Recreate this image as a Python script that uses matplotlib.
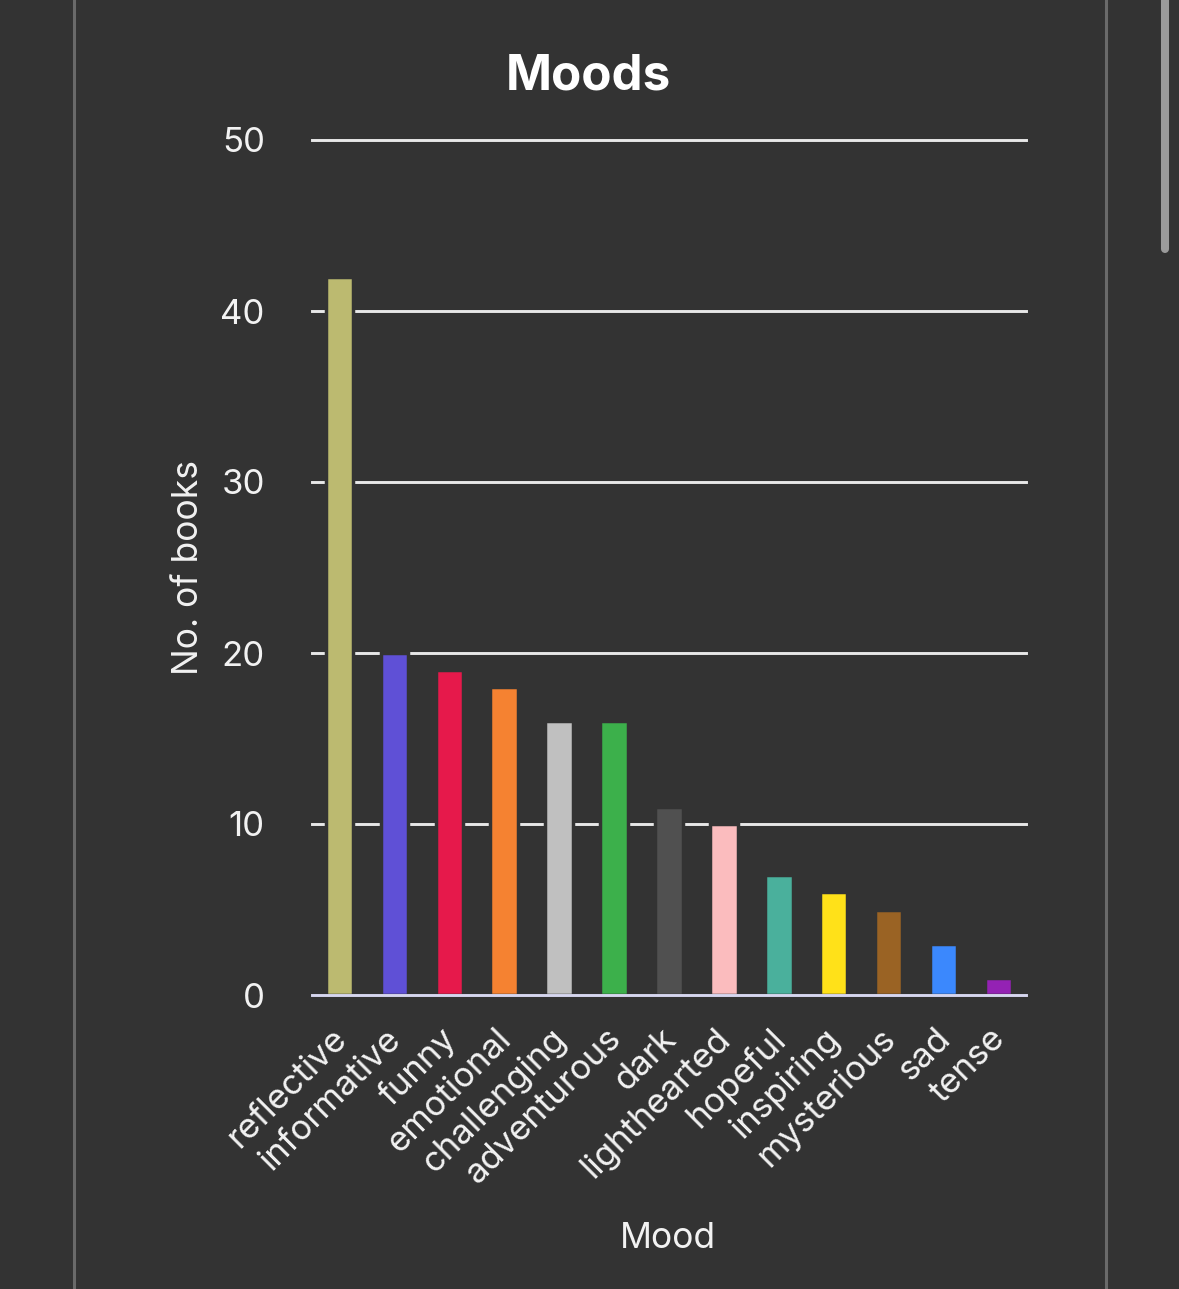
import matplotlib
matplotlib.use("Agg")
import matplotlib.pyplot as plt
from matplotlib.lines import Line2D
import matplotlib.transforms as mtransforms

# ---- data ----
moods = ["reflective", "informative", "funny", "emotional", "challenging",
         "adventurous", "dark", "lighthearted", "hopeful", "inspiring",
         "mysterious", "sad", "tense"]
counts = [42, 20, 19, 18, 16, 16, 11, 10, 7, 6, 5, 3, 1]
colors = ["#bcba70", "#5f50d6", "#e6194b", "#f58231", "#c0c0c0", "#3cb04b",
          "#505050", "#fbbcbe", "#4ab09c", "#ffe119", "#9a6324", "#3b88fd",
          "#9422b4"]
y_ticks = [0, 10, 20, 30, 40, 50]
title = "Moods"
x_title = "Mood"
y_title = "No. of books"

BG = "#333333"
TXT = "#f2f2f2"
FONT = ["Inter", "DejaVu Sans"]
plt.rcParams["font.family"] = FONT

W, H = 1179, 1289
fig = plt.figure(figsize=(W / 100, H / 100), dpi=100, facecolor=BG)

def fx(px):
    return px / W

def fy(py):
    return 1 - py / H

ax = fig.add_axes([fx(312), fy(995), fx(1026) - fx(312), fy(140) - fy(995)])
ax.set_facecolor(BG)
for s in ax.spines.values():
    s.set_visible(False)

x = list(range(len(moods)))
ax.set_xlim(-0.5, len(moods) - 0.5)
ax.set_ylim(0, 50)

# grid lines
for t in y_ticks[1:]:
    ax.axhline(t, color="#e8e8e8", lw=2.1, zorder=1, clip_on=False)
# bars
ax.bar(x, counts, width=0.5, color=colors, edgecolor=BG, linewidth=2.5, zorder=2)
# baseline
ax.axhline(0, color="#d6d6ef", lw=2.1, zorder=3, clip_on=False)

ax.set_yticks(y_ticks)
ax.set_yticklabels([str(t) for t in y_ticks])
ax.tick_params(axis="y", length=0, pad=34, labelsize=25, labelcolor=TXT)

ax.set_xticks(x)
ax.set_xticklabels(moods, rotation=45, ha="right", va="center",
                   rotation_mode="anchor")
ax.tick_params(axis="x", length=0, pad=28, labelsize=25, labelcolor=TXT)
offset = mtransforms.ScaledTranslation(2 / 100, 0, fig.dpi_scale_trans)
for lab in ax.get_xticklabels():
    lab.set_transform(lab.get_transform() + offset)

ax.set_ylabel(y_title, fontsize=25.5, color=TXT, va="center")
ax.yaxis.set_label_coords((188 - 312) / 714, 0.5)
ax.set_xlabel(x_title, fontsize=25.5, color=TXT, va="center")
ax.xaxis.set_label_coords((668 - 312) / 714, -(1239 - 995) / 855)

fig.text(fx(588), fy(76), title, ha="center", va="center", fontsize=35.5,
         fontweight="bold", color="#ffffff")

# panel borders and scrollbar
fig.add_artist(Line2D([fx(73.5), fx(73.5)], [0, 1], color="#6a6a6a", lw=2.2))
fig.add_artist(Line2D([fx(1105.5), fx(1105.5)], [0, 1], color="#6a6a6a", lw=2.2))
fig.add_artist(Line2D([fx(1165), fx(1165)], [fy(-10), fy(249)], color="#9b9b9b",
                      lw=5.8, solid_capstyle="round"))

fig.savefig("out.png", dpi=100, facecolor=BG)
